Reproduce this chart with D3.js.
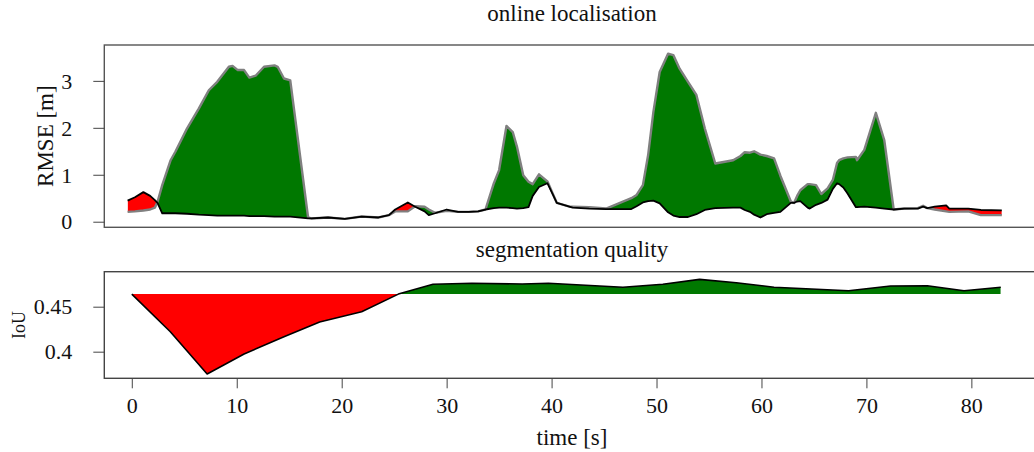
<!DOCTYPE html>
<html>
<head>
<meta charset="utf-8">
<script src="https://cdn.jsdelivr.net/npm/d3@7"></script>
<style>
html,body{margin:0;padding:0;background:#fff;}
svg{display:block;}
text{font-family:"Liberation Serif","Times New Roman",serif;fill:#111;}
</style>
</head>
<body>
<svg id="chart" width="1034" height="452"></svg>
<script>
// ---- data ----
const locTime = [-0.4,0.3,1.1,1.75,2.2,2.45,2.9,3.7,4.15,5.27,6.38,7.34,8.14,9.25,9.6,10.1,10.7,11.2,11.8,12.6,13.6,13.9,14.5,15.1,16.8,17.1,18.7,20.3,21.9,23.5,24.5,25.1,26.3,27.0,27.9,28.3,28.9,30.0,31.1,32.1,33.0,33.7,34.5,35.0,35.7,36.3,36.7,37.3,37.8,38.2,38.8,39.6,40.5,41.7,42.0,43.6,45.2,46.8,47.6,48.1,48.7,49.2,49.7,50.3,51.1,51.6,52.2,53.0,53.8,54.6,55.6,57.3,58.0,58.4,58.9,59.3,59.9,60.5,61.2,61.8,62.8,63.1,63.4,63.7,64.4,64.6,65.2,65.7,66.3,66.8,67.2,67.4,67.8,68.2,69.0,69.1,69.8,70.9,71.7,72.6,73.6,74.9,75.4,75.8,76.5,77.6,77.9,79.7,80.9,82.9];
const rmseOurs = [0.45,0.52,0.63,0.55,0.46,0.40,0.18,0.18,0.18,0.17,0.15,0.14,0.13,0.13,0.13,0.13,0.13,0.12,0.12,0.12,0.11,0.11,0.11,0.11,0.07,0.07,0.09,0.06,0.11,0.09,0.14,0.26,0.41,0.32,0.22,0.14,0.18,0.26,0.21,0.21,0.22,0.26,0.29,0.30,0.30,0.29,0.28,0.29,0.31,0.55,0.74,0.82,0.40,0.32,0.30,0.28,0.27,0.27,0.27,0.33,0.41,0.44,0.45,0.39,0.20,0.13,0.10,0.10,0.16,0.25,0.29,0.30,0.30,0.25,0.21,0.15,0.09,0.16,0.19,0.21,0.40,0.40,0.43,0.44,0.30,0.28,0.36,0.40,0.47,0.70,0.82,0.80,0.73,0.60,0.31,0.31,0.32,0.30,0.28,0.26,0.28,0.28,0.32,0.29,0.32,0.35,0.28,0.28,0.25,0.24];
const rmseBaseline = [0.21,0.22,0.24,0.26,0.30,0.42,0.78,1.31,1.49,1.99,2.41,2.80,2.98,3.30,3.32,3.23,3.23,3.07,3.11,3.30,3.33,3.30,3.05,3.01,0.09,0.07,0.09,0.06,0.11,0.09,0.14,0.22,0.22,0.33,0.32,0.26,0.19,0.23,0.21,0.21,0.22,0.26,0.82,1.10,2.04,1.91,1.60,0.99,0.85,0.80,1.01,0.86,0.40,0.32,0.32,0.31,0.28,0.43,0.50,0.57,0.78,1.42,2.34,3.19,3.58,3.55,3.26,2.98,2.70,1.99,1.24,1.31,1.40,1.48,1.47,1.50,1.43,1.40,1.35,0.98,0.43,0.40,0.55,0.67,0.80,0.80,0.78,0.59,0.71,0.89,1.25,1.31,1.35,1.37,1.38,1.31,1.53,2.32,1.74,0.26,0.28,0.29,0.34,0.29,0.26,0.22,0.21,0.22,0.14,0.14];

const segTime = [0,3.67,7.18,10.7,14.5,17.9,21.9,25.4,28.7,32.4,37.2,39.7,46.8,50.6,54.1,57.6,61.2,68.3,72.3,75.8,79.3,82.8];
const segIoU = [0.464,0.4222,0.3752,0.3974,0.4167,0.433,0.4444,0.464,0.4749,0.476,0.4752,0.476,0.4716,0.4749,0.4804,0.4767,0.4716,0.4678,0.473,0.4733,0.4678,0.4716];
const segReference = 0.464;

const rmseTicks = [0,1,2,3];
const iouTicks = [0.40,0.45];
const timeTicks = [0,10,20,30,40,50,60,70,80];

// ---- layout ----
const svg = d3.select("#chart");
const L = 104.3, R = 1040;
const top1 = 45, bot1 = 227.3;
const top2 = 271.7, bot2 = 378.3;
const GREEN = "#007800", RED = "#ff0000";

const x = d3.scaleLinear().domain([-2.62, 86.54]).range([L, R]);
const y1 = d3.scaleLinear().domain([-0.119, 3.764]).range([bot1, top1]);
const y2 = d3.scaleLinear().domain([0.3704, 0.4889]).range([bot2, top2]);

const loc = locTime.map((t,i)=>({t, a:rmseOurs[i], b:rmseBaseline[i]}));
const seg = segTime.map((t,i)=>({t, v:segIoU[i]}));

// clip paths for difference fills
const defs = svg.append("defs");
defs.append("clipPath").attr("id","locAbove").append("path")
  .attr("d", d3.area().x(d=>x(d.t)).y0(top1-5).y1(d=>y1(d.a))(loc));
defs.append("clipPath").attr("id","locBelow").append("path")
  .attr("d", d3.area().x(d=>x(d.t)).y0(bot1+5).y1(d=>y1(d.a))(loc));
defs.append("clipPath").attr("id","segAbove").append("path")
  .attr("d", d3.area().x(d=>x(d.t)).y0(top2-5).y1(y2(segReference))(seg));
defs.append("clipPath").attr("id","segBelow").append("path")
  .attr("d", d3.area().x(d=>x(d.t)).y0(bot2+5).y1(y2(segReference))(seg));
defs.append("clipPath").attr("id","plot1").append("rect")
  .attr("x",L).attr("y",top1).attr("width",R-L).attr("height",bot1-top1);
defs.append("clipPath").attr("id","plot2").append("rect")
  .attr("x",L).attr("y",top2).attr("width",R-L).attr("height",bot2-top2);

// ---- top panel ----
const g1 = svg.append("g").attr("clip-path","url(#plot1)");
const diffArea = d3.area().x(d=>x(d.t)).y0(d=>y1(d.a)).y1(d=>y1(d.b));
g1.append("path").datum(loc).attr("d",diffArea).attr("fill",GREEN).attr("clip-path","url(#locAbove)");
g1.append("path").datum(loc).attr("d",diffArea).attr("fill",RED).attr("clip-path","url(#locBelow)");
g1.append("path").datum(loc)
  .attr("d", d3.line().x(d=>x(d.t)).y(d=>y1(d.b)))
  .attr("fill","none").attr("stroke","#808080").attr("stroke-width",2.4).attr("stroke-linejoin","round");
g1.append("path").datum(loc)
  .attr("d", d3.line().x(d=>x(d.t)).y(d=>y1(d.a)))
  .attr("fill","none").attr("stroke","#000").attr("stroke-width",1.8).attr("stroke-linejoin","round");

svg.append("rect").attr("x",L).attr("y",top1).attr("width",R-L).attr("height",bot1-top1)
  .attr("fill","none").attr("stroke","#555").attr("stroke-width",1.4);

const ax1 = svg.append("g").attr("transform",`translate(${L-11},0)`)
  .call(d3.axisLeft(y1).tickValues(rmseTicks).tickFormat(d3.format("d")).tickSize(11).tickPadding(10));
ax1.select(".domain").remove();
ax1.selectAll(".tick line").attr("stroke","#444").attr("transform","translate(11,0)");
ax1.selectAll(".tick text").attr("font-size",22).attr("dy","0.33em").attr("font-family","Liberation Serif");

svg.append("text").attr("x",572).attr("y",21).attr("text-anchor","middle")
  .attr("font-size",23).text("online localisation");
svg.append("text").attr("transform",`translate(53,${(top1+bot1)/2}) rotate(-90)`)
  .attr("text-anchor","middle").attr("font-size",23).text("RMSE [m]");

// ---- bottom panel ----
const g2 = svg.append("g").attr("clip-path","url(#plot2)");
const segDiff = d3.area().x(d=>x(d.t)).y0(y2(segReference)).y1(d=>y2(d.v));
g2.append("path").datum(seg).attr("d",segDiff).attr("fill",GREEN).attr("clip-path","url(#segAbove)");
g2.append("path").datum(seg).attr("d",segDiff).attr("fill",RED).attr("clip-path","url(#segBelow)");
g2.append("path").datum(seg)
  .attr("d", d3.line().x(d=>x(d.t)).y(d=>y2(d.v)))
  .attr("fill","none").attr("stroke","#000").attr("stroke-width",1.6).attr("stroke-linejoin","round");

svg.append("rect").attr("x",L).attr("y",top2).attr("width",R-L).attr("height",bot2-top2)
  .attr("fill","none").attr("stroke","#444").attr("stroke-width",1.4);

const ax2 = svg.append("g").attr("transform",`translate(${L-11},0)`)
  .call(d3.axisLeft(y2).tickValues(iouTicks).tickFormat(d=>d3.format("")(+d.toFixed(2))).tickSize(11).tickPadding(10));
ax2.select(".domain").remove();
ax2.selectAll(".tick line").attr("stroke","#444").attr("transform","translate(11,0)");
ax2.selectAll(".tick text").attr("font-size",22).attr("dy","0.33em").attr("font-family","Liberation Serif");

const ax3 = svg.append("g").attr("transform",`translate(0,${bot2})`)
  .call(d3.axisBottom(x).tickValues(timeTicks).tickSize(10).tickPadding(9));
ax3.select(".domain").remove();
ax3.selectAll(".tick line").attr("stroke","#444");
ax3.selectAll(".tick text").attr("font-size",22).attr("font-family","Liberation Serif");

svg.append("text").attr("x",572).attr("y",257).attr("text-anchor","middle")
  .attr("font-size",23).text("segmentation quality");
svg.append("text").attr("x",572).attr("y",445).attr("text-anchor","middle")
  .attr("font-size",23).text("time [s]");
svg.append("text").attr("transform",`translate(25,${(top2+bot2)/2}) rotate(-90)`)
  .attr("text-anchor","middle").attr("font-size",18).text("IoU");
</script>
</body>
</html>
